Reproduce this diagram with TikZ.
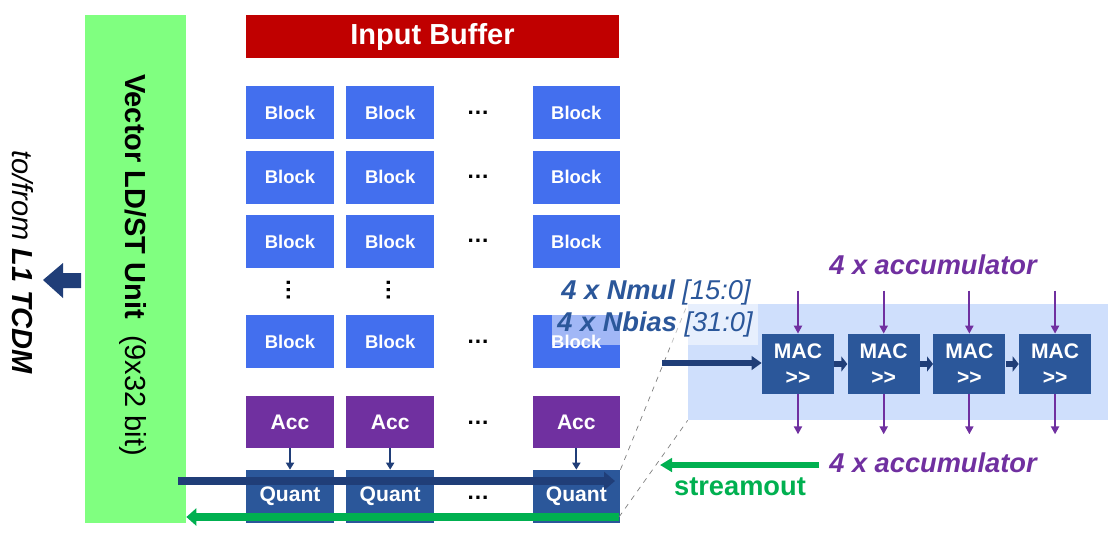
\documentclass[tikz,border=0pt]{standalone}
\usepackage{fontspec}
\setmainfont{Liberation Sans}
\usetikzlibrary{positioning,arrows.meta}

\definecolor{ldstgreen}{RGB}{128,255,128}
\definecolor{bufred}{RGB}{192,0,0}
\definecolor{blockblue}{RGB}{67,111,238}
\definecolor{accpurple}{RGB}{112,48,160}
\definecolor{quantblue}{RGB}{43,87,154}
\definecolor{arrowblue}{RGB}{32,62,120}
\definecolor{streamgreen}{RGB}{0,176,80}
\definecolor{regionblue}{RGB}{207,223,252}

\begin{document}
\begin{tikzpicture}[x=0.02cm,y=-0.02cm,inner sep=0pt]
  \tikzstyle{blk}=[rectangle,fill=blockblue,text=white,minimum width=1.75cm,minimum height=1.06cm,
                   font=\bfseries\fontsize{10.5pt}{12pt}\selectfont]
  \tikzstyle{acc}=[blk,fill=accpurple,minimum height=1.04cm,font=\bfseries\fontsize{12pt}{14pt}\selectfont]
  \tikzstyle{quant}=[blk,fill=quantblue,font=\bfseries\fontsize{12pt}{14pt}\selectfont]
  \tikzstyle{mac}=[rectangle,fill=quantblue,text=white,minimum width=1.44cm,minimum height=1.2cm,
                   align=center,font=\bfseries\fontsize{12pt}{15pt}\selectfont]
  \tikzstyle{dots}=[anchor=base,font=\bfseries\fontsize{13pt}{14pt}\selectfont]
  \tikzstyle{bus}=[arrowblue,line width=0.17cm,-{Triangle[length=0.22cm,width=0.36cm]}]
  \tikzstyle{busback}=[streamgreen,line width=0.17cm,-{Triangle[length=0.2cm,width=0.34cm]}]
  \tikzstyle{feed}=[arrowblue,line width=0.13cm,-{Triangle[length=0.2cm,width=0.27cm]}]
  \tikzstyle{chain}=[arrowblue,line width=0.13cm,-{Triangle[length=0.12cm,width=0.3cm]}]
  \tikzstyle{down}=[arrowblue,line width=0.04cm,-{Triangle[length=0.14cm,width=0.16cm]}]
  \tikzstyle{accarrow}=[accpurple,line width=0.04cm,-{Triangle[length=0.16cm,width=0.16cm]}]
  \tikzstyle{accbold}=[accpurple,font=\bfseries\itshape\fontsize{15.5pt}{18pt}\selectfont]
  \tikzstyle{param}=[quantblue,font=\fontsize{15.5pt}{18pt}\selectfont\itshape]

  \useasboundingbox (0,0) rectangle (1117,532);

  % vector load/store unit
  \node[fill=ldstgreen,minimum width=2.02cm,minimum height=10.16cm] (ldst) at (135.5,269) {};
  \node[rotate=-90,font=\fontsize{16.5pt}{18pt}\selectfont] (ldsttext) at (133,265)
       {\textbf{Vector LD/ST Unit}\ \ (9x32 bit)};
  \node[rotate=-90,font=\fontsize{16.5pt}{18pt}\selectfont\itshape] (tcdm) at (23,262)
       {to/from \textbf{L1 TCDM}};
  \fill[arrowblue] (43,280) -- (63,263) -- (63,273) -- (81,273) -- (81,288) -- (63,288) -- (63,298) -- cycle;

  % input buffer and block array
  \node[fill=bufred,text=white,minimum width=7.46cm,minimum height=0.86cm,
        font=\bfseries\fontsize{16.5pt}{18pt}\selectfont] (buf) at (432.5,36.5) {Input Buffer};

  \node[blk] (b11) at (290,112.5) {Block};
  \node[blk] (b12) [right=0.24cm of b11] {Block};
  \node[blk] (b13) [right=1.96cm of b12] {Block};
  \node[blk] (b21) [below=0.22cm of b11] {Block};
  \node[blk] (b22) [right=0.24cm of b21] {Block};
  \node[blk] (b23) [right=1.96cm of b22] {Block};
  \node[blk] (b31) [below=0.22cm of b21] {Block};
  \node[blk] (b32) [right=0.24cm of b31] {Block};
  \node[blk] (b33) [right=1.96cm of b32] {Block};
  \node[blk] (b41) at (290,341.5) {Block};
  \node[blk] (b42) [right=0.24cm of b41] {Block};
  \node[blk] (b43) [right=1.96cm of b42] {Block};

  \node[acc] (a1) at (290,422) {Acc};
  \node[acc] (a2) [right=0.24cm of a1] {Acc};
  \node[acc] (a3) [right=1.96cm of a2] {Acc};
  \node[quant] (q1) at (290,496.5) {Quant};
  \node[quant] (q2) [right=0.24cm of q1] {Quant};
  \node[quant] (q3) [right=1.96cm of q2] {Quant};

  \node[dots] (d1) at (478,114) {…};
  \node[dots] (d2) at (478,178) {…};
  \node[dots] (d3) at (478,242) {…};
  \node[dots] (d4) at (478,343) {…};
  \node[dots] (d5) at (478,424) {…};
  \node[dots] (d6) at (478,499) {…};
  \node[dots,rotate=90] (v1) at (290,290) {…};
  \node[dots,rotate=90] (v2) at (390,290) {…};

  \path (a1) edge[down] (q1)
        (a2) edge[down] (q2)
        (a3) edge[down] (q3);

  \coordinate (qin) at (178,481);
  \coordinate (qout) at (615,481);
  \coordinate (sout) at (619,517);
  \draw[bus] (qin) -- (qout);
  \draw[busback] (sout) -- (sout -| ldst.east);

  % MAC datapath detail
  \node[fill=regionblue,minimum width=8.4cm,minimum height=2.32cm] (region) at (898,362) {};
  \draw[gray,dashed,thin] (q3.north east) -- (region.north west);
  \draw[gray,dashed,thin] (sout) -- (region.south west);

  \node[mac] (m1) at (798,364) {MAC\\{>}{>}};
  \node[mac] (m2) [right=0.26cm of m1] {MAC\\{>}{>}};
  \node[mac] (m3) [right=0.26cm of m2] {MAC\\{>}{>}};
  \node[mac] (m4) [right=0.26cm of m3] {MAC\\{>}{>}};

  \path (m1) edge[chain] (m2)
        (m2) edge[chain] (m3)
        (m3) edge[chain] (m4);

  \coordinate (min) at (662,363);
  \draw[feed] (min) -- (min -| m1.west);

  \coordinate[above=0.86cm of m1] (i1);
  \coordinate[above=0.86cm of m2] (i2);
  \coordinate[above=0.86cm of m3] (i3);
  \coordinate[above=0.86cm of m4] (i4);
  \coordinate[below=0.8cm of m1] (o1);
  \coordinate[below=0.8cm of m2] (o2);
  \coordinate[below=0.8cm of m3] (o3);
  \coordinate[below=0.8cm of m4] (o4);
  \draw[accarrow] (i1) -- (m1.north);
  \draw[accarrow] (i2) -- (m2.north);
  \draw[accarrow] (i3) -- (m3.north);
  \draw[accarrow] (i4) -- (m4.north);
  \draw[accarrow] (m1.south) -- (o1);
  \draw[accarrow] (m2.south) -- (o2);
  \draw[accarrow] (m3.south) -- (o3);
  \draw[accarrow] (m4.south) -- (o4);

  \node[accbold] (accin) at (933,265) {4 x accumulator};
  \node[accbold] (accout) at (933,463) {4 x accumulator};

  \coordinate (s1) at (819,465);
  \coordinate (s2) at (660,465);
  \draw[streamgreen,line width=0.13cm,-{Triangle[length=0.24cm,width=0.27cm]}] (s1) -- (s2);
  \node[streamgreen,font=\bfseries\fontsize{15.5pt}{18pt}\selectfont] (stream) at (740,487) {streamout};

  \fill[white,opacity=0.5] (552,303) rectangle (758,345);
  \node[param] (nmul) at (656,292) {\textbf{4 x Nmul} [15:0]};
  \node[param] (nbias) at (655,324) {\textbf{4 x Nbias} [31:0]};
\end{tikzpicture}
\end{document}
